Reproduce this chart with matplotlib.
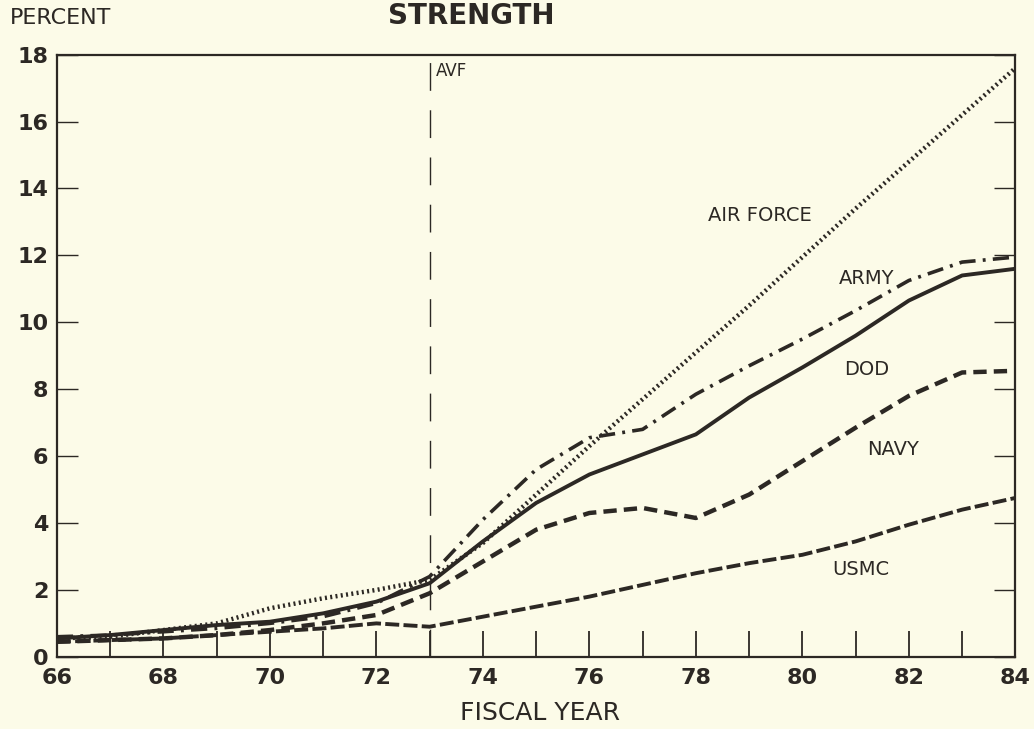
import numpy as np
import matplotlib.pyplot as plt
from matplotlib.ticker import MultipleLocator, FuncFormatter

# values (percent of strength, by fiscal year)
years = [66, 67, 68, 69, 70, 71, 72, 73, 74, 75, 76, 77, 78, 79, 80, 81, 82, 83, 84]
dod = [0.55, 0.65, 0.8, 0.95, 1.05, 1.3, 1.65, 2.2, 3.45, 4.6, 5.45, 6.05, 6.65, 7.75, 8.65, 9.6, 10.65, 11.4, 11.6]
army = [0.6, 0.65, 0.75, 0.85, 1.0, 1.2, 1.6, 2.4, 4.1, 5.6, 6.55, 6.8, 7.85, 8.7, 9.5, 10.35, 11.25, 11.8, 11.95]
air_force = [0.55, 0.6, 0.8, 1.0, 1.45, 1.75, 2.0, 2.3, 3.4, 4.85, 6.3, 7.7, 9.1, 10.5, 11.95, 13.4, 14.8, 16.2, 17.6]
navy = [0.45, 0.5, 0.55, 0.65, 0.8, 1.0, 1.25, 1.9, 2.85, 3.8, 4.3, 4.45, 4.15, 4.85, 5.85, 6.85, 7.8, 8.5, 8.55]
usmc = [0.45, 0.5, 0.55, 0.65, 0.75, 0.85, 1.0, 0.9, 1.2, 1.5, 1.8, 2.15, 2.5, 2.8, 3.05, 3.45, 3.95, 4.4, 4.75]

avf_year = 73
labels = ['AIR FORCE', 'ARMY', 'DOD', 'NAVY', 'USMC']
label_x = [79.2, 81.2, 81.2, 81.7, 81.1]
label_y = [13.2, 11.3, 8.6, 6.2, 2.6]

ink = '#2c2824'
paper = '#fcfbe8'

fig = plt.figure(figsize=(10.34, 7.29), dpi=100, facecolor=paper)
ax = fig.add_axes([0.055, 0.099, 0.927, 0.826])
ax.set_facecolor(paper)

ax.plot(years, air_force, color=ink, lw=3.2, linestyle=(0, (0.45, 0.75)))
ax.plot(years, army, color=ink, lw=2.6, linestyle=(0, (4.5, 2.0, 0.8, 2.0)))
ax.plot(years, dod, color=ink, lw=2.8, linestyle='-')
ax.plot(years, navy, color=ink, lw=3.2, linestyle=(0, (3.0, 1.6)))
ax.plot(years, usmc, color=ink, lw=2.8, linestyle=(0, (3.6, 1.1)))

ax.axvline(avf_year, color=ink, lw=1.0, linestyle=(0, (20, 14)))
ax.text(avf_year + 0.12, 17.5, 'AVF', color=ink, fontsize=12, va='center', ha='left')

for name, lx, ly in zip(labels, label_x, label_y):
    ax.text(lx, ly, name, color=ink, fontsize=14, ha='center', va='center')

ax.set_xlim(66, 84)
ax.set_ylim(0, 18)
ax.xaxis.set_major_locator(MultipleLocator(1))
ax.xaxis.set_major_formatter(FuncFormatter(lambda v, p: '%d' % v if int(round(v)) % 2 == 0 else ''))
ax.yaxis.set_major_locator(MultipleLocator(2))

ax.tick_params(axis='x', direction='in', length=19, width=1.3, colors=ink,
               labelsize=16, pad=8, top=False)
ax.tick_params(axis='y', direction='in', length=15, width=1.0, colors=ink,
               labelsize=16, pad=6, left=True, right=True)
for lab in ax.get_xticklabels() + ax.get_yticklabels():
    lab.set_fontweight('bold')

for s in ax.spines.values():
    s.set_color(ink)
    s.set_linewidth(1.6)

fig.text(0.01, 0.975, 'PERCENT', color=ink, fontsize=16, ha='left', va='center')
fig.text(0.456, 0.997, 'STRENGTH', color=ink, fontsize=20, fontweight='bold',
         ha='center', va='top')
fig.text(0.522, 0.022, 'FISCAL YEAR', color=ink, fontsize=18, ha='center', va='center')

fig.savefig('out.png', dpi=100, facecolor=paper)
